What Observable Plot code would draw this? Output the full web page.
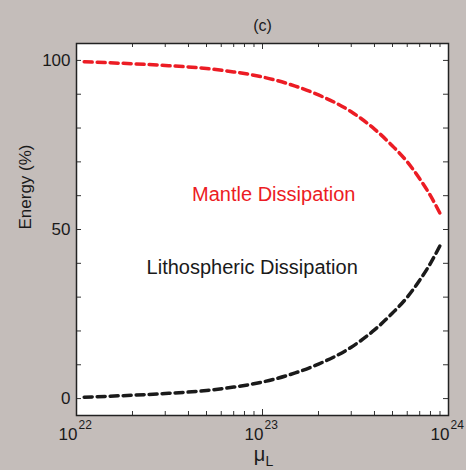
<!DOCTYPE html>
<html>
<head>
<meta charset="utf-8">
<script src="https://cdn.jsdelivr.net/npm/d3@7"></script>
<script src="https://cdn.jsdelivr.net/npm/@observablehq/plot@0.6"></script>
<style>
  html, body { margin: 0; padding: 0; background: #c4bdba; }
  #chart svg { display: block; }
</style>
</head>
<body>
<div id="chart"></div>
<script>
// Data
const mu = [1.1e22, 1.5e22, 2e22, 3e22, 5e22, 7e22, 1e23, 1.5e23, 2e23, 3e23, 4e23, 5e23, 6e23, 7e23, 8e23, 9e23];
const mantle = [99.6, 99.3, 99.0, 98.5, 97.6, 96.6, 95.1, 92.4, 89.8, 84.8, 79.7, 74.7, 70.0, 65.0, 60.0, 54.8];
const litho  = [0.4, 0.7, 1.0, 1.5, 2.4, 3.4, 4.9, 7.6, 10.2, 15.2, 20.3, 25.3, 30.0, 35.0, 40.0, 45.2];
const xMajor = [1e22, 1e23, 1e24];
const xExponents = ["22", "23", "24"];
const xMinor = [2e22, 3e22, 4e22, 5e22, 6e22, 7e22, 8e22, 9e22, 2e23, 3e23, 4e23, 5e23, 6e23, 7e23, 8e23, 9e23];
const yTicks = [0, 10, 20, 30, 40, 50, 60, 70, 80, 90, 100];
const yLabels = [0, 50, 100];
const seriesLabels = [
  {name: "Mantle Dissipation", x: 1.15e23, y: 60.2, color: "#ec1c24"},
  {name: "Lithospheric Dissipation", x: 8.8e22, y: 38.6, color: "#1a1a1a"}
];
const title = "(c)";
const yTitle = "Energy (%)";
const xTitle = "μ";
const xTitleSub = "L";

const W = 466, H = 470, mL = 76, mR = 18, mT = 43, mB = 55;
const pw = W - mL - mR, ph = H - mT - mB;

const mantleData = mu.map((m, i) => ({mu: m, v: mantle[i]}));
const lithoData = mu.map((m, i) => ({mu: m, v: litho[i]}));

const chart = Plot.plot({
  width: W, height: H,
  marginLeft: mL, marginRight: mR, marginTop: mT, marginBottom: mB,
  style: {background: "transparent", fontFamily: "'Liberation Sans', Arial, sans-serif", color: "#1a1a1a"},
  x: {type: "log", domain: [1e22, 1e24], axis: null},
  y: {domain: [-5, 105], axis: null},
  marks: [
    Plot.frame({fill: "white", stroke: null}),
    // inward ticks
    Plot.tickX(xMinor, {x: d => d, insetTop: ph - 4, stroke: "#333", strokeWidth: 1}),
    Plot.tickX(xMinor, {x: d => d, insetBottom: ph - 4, stroke: "#333", strokeWidth: 1}),
    Plot.tickX(xMajor, {x: d => d, insetTop: ph - 6, stroke: "#333", strokeWidth: 1}),
    Plot.tickX(xMajor, {x: d => d, insetBottom: ph - 6, stroke: "#333", strokeWidth: 1}),
    Plot.tickY(yTicks, {y: d => d, insetRight: pw - 5, stroke: "#333", strokeWidth: 1}),
    Plot.tickY(yTicks, {y: d => d, insetLeft: pw - 5, stroke: "#333", strokeWidth: 1}),
    // curves
    Plot.line(mantleData, {x: "mu", y: "v", stroke: "#ec1c24", strokeWidth: 3.5, strokeDasharray: "8,5", curve: "monotone-x"}),
    Plot.line(lithoData, {x: "mu", y: "v", stroke: "#1a1a1a", strokeWidth: 3.5, strokeDasharray: "8,5", curve: "monotone-x"}),
    // series labels
    Plot.text(seriesLabels, {x: "x", y: "y", text: "name", fill: "color", fontSize: 20}),
    Plot.frame({stroke: "#222", strokeWidth: 1.5}),
    // y tick labels
    Plot.text(yLabels, {y: d => d, text: d => String(d), frameAnchor: "left", textAnchor: "end", dx: -6, fontSize: 17, fill: "#1a1a1a"}),
    // x tick labels
    Plot.text(xMajor, {x: d => d, text: () => "10", frameAnchor: "bottom", textAnchor: "end", dx: 1, dy: 24, fontSize: 17, fill: "#1a1a1a"}),
    Plot.text(xMajor, {x: d => d, text: (d, i) => xExponents[i], frameAnchor: "bottom", textAnchor: "start", dx: 2, dy: 13, fontSize: 12, fill: "#1a1a1a"}),
    // titles
    Plot.text([title], {text: d => d, frameAnchor: "top", dy: -24, fontSize: 16, fill: "#1a1a1a"}),
    Plot.text([yTitle], {text: d => d, frameAnchor: "left", dx: -51, rotate: -90, fontSize: 17, fill: "#1a1a1a"}),
    Plot.text([xTitle], {text: d => d, frameAnchor: "bottom", dy: 45, dx: -3, fontSize: 20, fill: "#1a1a1a"}),
    Plot.text([xTitleSub], {text: d => d, frameAnchor: "bottom", dy: 50, dx: 7, fontSize: 14, fill: "#1a1a1a"})
  ]
});
document.getElementById("chart").appendChild(chart);
</script>
</body>
</html>
